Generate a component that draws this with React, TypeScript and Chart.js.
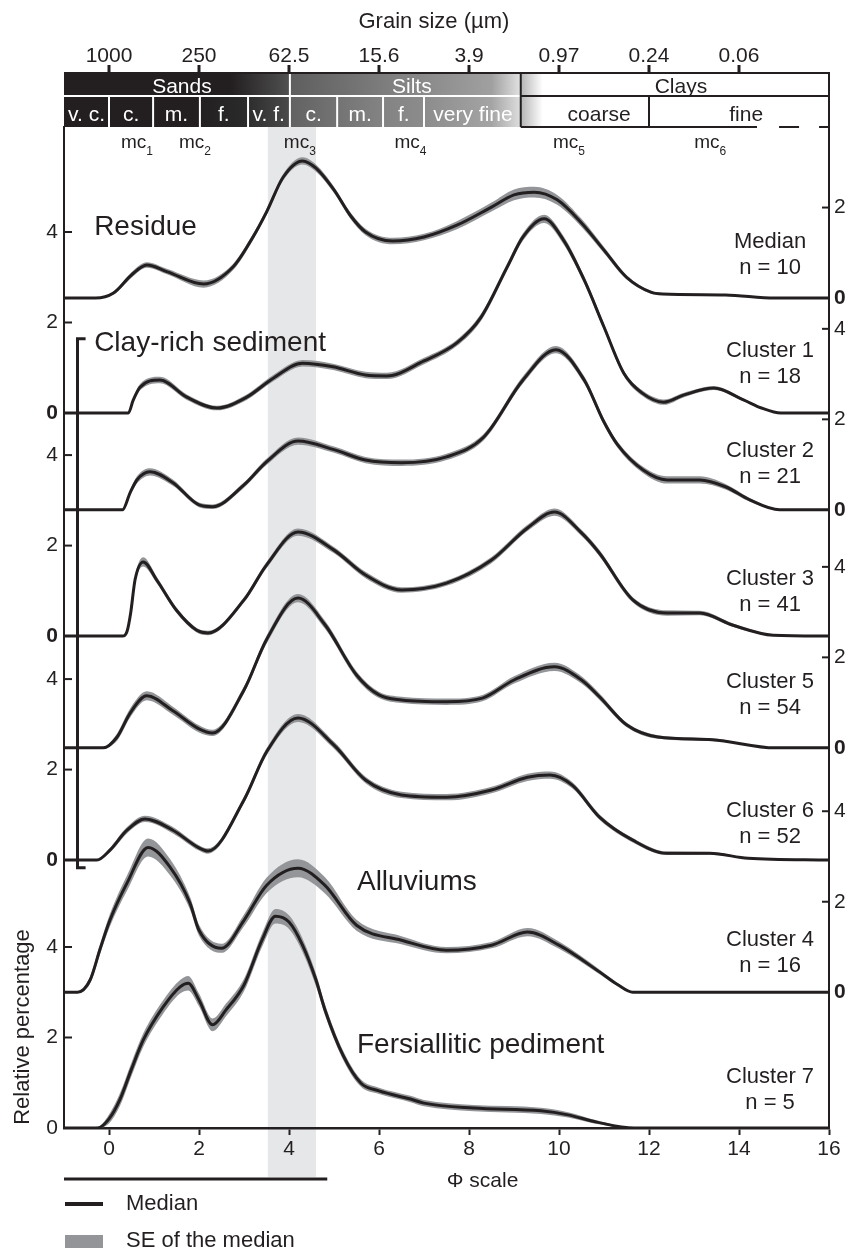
import React, { useEffect, useRef } from 'react';
import { Chart, registerables } from 'chart.js';

Chart.register(...registerables);

const FONT = '"Liberation Sans", Arial, Helvetica, sans-serif';
const INK = '#231f20';
const SE_GREY = '#939598';
const BAND_GREY = '#e6e7e8';
const W = 848;
const H = 1253;

// ---------- curve data (Φ positions, median relative %, SE of median) ----------
const residuePhi = [-1, -0.3, 0.1, 0.5, 0.84, 1.3, 2.1, 2.76, 3.2, 3.5, 3.87, 4.3, 4.6, 5.0, 5.36, 5.7, 6.3, 7.0, 7.73, 8.5, 9.0, 9.45, 9.96, 10.5, 11.0, 11.5, 12.04, 12.3, 13.7, 14.8, 16];
const residueMedian = [0, 0, 0.11, 0.51, 0.73, 0.58, 0.31, 0.69, 1.35, 1.9, 2.67, 3.03, 2.87, 2.39, 1.83, 1.46, 1.26, 1.35, 1.61, 2.01, 2.28, 2.34, 2.17, 1.66, 1.06, 0.46, 0.13, 0.09, 0.07, 0, 0];
const residueSE = [0, 0, 0.03, 0.06, 0.06, 0.06, 0.08, 0.07, 0.07, 0.07, 0.07, 0.08, 0.08, 0.07, 0.07, 0.07, 0.07, 0.07, 0.09, 0.1, 0.12, 0.12, 0.11, 0.09, 0.07, 0.05, 0.03, 0.02, 0.01, 0, 0];

const c1Phi = [-1, 0.43, 0.54, 0.69, 1.13, 1.73, 2.4, 3.06, 3.65, 4.3, 4.98, 5.7, 6.17, 7.0, 7.73, 8.27, 8.85, 9.2, 9.67, 10.1, 10.56, 11.0, 11.44, 11.85, 12.33, 12.78, 13.44, 14.1, 14.5, 14.93, 16];
const c1Median = [0, 0, 0.29, 0.57, 0.73, 0.35, 0.11, 0.35, 0.77, 1.1, 1.02, 0.84, 0.82, 1.15, 1.55, 2.12, 3.23, 3.89, 4.29, 3.82, 2.94, 1.9, 0.88, 0.44, 0.24, 0.4, 0.55, 0.29, 0.11, 0, 0];
const c1SE = [0, 0, 0.05, 0.07, 0.07, 0.06, 0.05, 0.06, 0.07, 0.07, 0.07, 0.07, 0.07, 0.07, 0.07, 0.08, 0.08, 0.08, 0.09, 0.09, 0.08, 0.07, 0.06, 0.06, 0.06, 0.05, 0.04, 0.03, 0.02, 0, 0];

const c2Phi = [-1, 0.3, 0.47, 0.62, 0.91, 1.42, 2.0, 2.3, 3.0, 3.5, 4.2, 5.0, 5.7, 6.5, 7.5, 8.33, 9.2, 9.93, 10.56, 11.0, 11.3, 11.87, 12.4, 13.13, 13.7, 14.24, 14.9, 16];
const c2Median = [0, 0, 0.38, 0.66, 0.84, 0.6, 0.11, 0.07, 0.55, 1.06, 1.52, 1.33, 1.1, 1.04, 1.17, 1.61, 2.87, 3.54, 2.87, 1.94, 1.44, 0.88, 0.66, 0.66, 0.51, 0.22, 0, 0];
const c2SE = [0, 0, 0.06, 0.08, 0.08, 0.07, 0.05, 0.05, 0.06, 0.07, 0.08, 0.07, 0.07, 0.07, 0.07, 0.07, 0.08, 0.08, 0.08, 0.07, 0.07, 0.07, 0.08, 0.08, 0.06, 0.04, 0, 0];

const c3Phi = [-1, 0.3, 0.4, 0.48, 0.58, 0.76, 1.06, 1.5, 1.95, 2.2, 3.0, 3.5, 4.2, 5.0, 5.7, 6.5, 7.5, 8.5, 9.3, 9.9, 10.5, 10.9, 11.64, 12.4, 13.13, 13.87, 14.76, 16];
const c3Median = [0, 0, 0.1, 0.5, 1.25, 1.64, 1.24, 0.57, 0.13, 0.07, 0.8, 1.57, 2.3, 1.9, 1.35, 1.02, 1.17, 1.68, 2.39, 2.74, 2.28, 1.83, 0.8, 0.51, 0.51, 0.24, 0.02, 0];
const c3SE = [0, 0, 0.03, 0.06, 0.08, 0.1, 0.07, 0.06, 0.05, 0.05, 0.06, 0.07, 0.08, 0.07, 0.07, 0.06, 0.06, 0.07, 0.07, 0.08, 0.07, 0.07, 0.06, 0.06, 0.05, 0.04, 0.01, 0];

const c5Phi = [-1, -0.13, 0.18, 0.47, 0.84, 1.42, 2.0, 2.3, 3.0, 3.5, 4.2, 4.8, 5.5, 6.0, 6.5, 7.5, 8.3, 9.0, 9.9, 10.5, 10.9, 11.5, 12.2, 13.4, 14.8, 16];
const c5Median = [0, 0, 0.24, 0.77, 1.15, 0.82, 0.42, 0.33, 1.28, 2.39, 3.31, 2.72, 1.61, 1.17, 1.06, 1.02, 1.1, 1.5, 1.79, 1.5, 1.13, 0.51, 0.24, 0.18, 0, 0];
const c5SE = [0, 0.02, 0.08, 0.1, 0.1, 0.09, 0.08, 0.07, 0.08, 0.09, 0.09, 0.09, 0.08, 0.07, 0.07, 0.07, 0.07, 0.08, 0.09, 0.08, 0.07, 0.05, 0.04, 0.03, 0, 0];

const c6Phi = [-1, -0.27, 0.02, 0.4, 0.8, 1.42, 2.0, 2.2, 3.0, 3.5, 4.2, 5.0, 5.7, 6.5, 7.5, 8.5, 9.3, 9.8, 10.3, 10.9, 11.64, 12.4, 13.35, 14.2, 16];
const c6Median = [0, 0, 0.22, 0.66, 0.91, 0.66, 0.27, 0.2, 1.33, 2.39, 3.14, 2.54, 1.77, 1.44, 1.39, 1.55, 1.83, 1.88, 1.65, 0.95, 0.44, 0.15, 0.15, 0.04, 0];
const c6SE = [0, 0.01, 0.05, 0.07, 0.07, 0.07, 0.06, 0.06, 0.07, 0.08, 0.09, 0.08, 0.07, 0.07, 0.07, 0.07, 0.08, 0.08, 0.07, 0.06, 0.05, 0.04, 0.03, 0.01, 0];

const c4Phi = [-1, -0.7, -0.42, -0.2, 0.02, 0.4, 0.87, 1.36, 1.8, 2.0, 2.5, 3.0, 3.5, 4.2, 4.8, 5.5, 6.5, 7.5, 8.5, 9.3, 10.0, 10.9, 11.3, 11.64, 16];
const c4Median = [0, 0, 0.27, 0.95, 1.59, 2.41, 3.2, 2.76, 1.97, 1.37, 0.97, 1.59, 2.36, 2.74, 2.36, 1.48, 1.15, 0.93, 1.04, 1.33, 1.04, 0.45, 0.17, 0, 0];
const c4SE = [0, 0, 0.08, 0.11, 0.14, 0.17, 0.2, 0.18, 0.14, 0.12, 0.1, 0.13, 0.17, 0.2, 0.18, 0.12, 0.09, 0.07, 0.07, 0.09, 0.08, 0.05, 0.03, 0, 0];

const c7Phi = [-1, -0.25, 0.0, 0.24, 0.5, 0.76, 1.2, 1.58, 1.76, 2.0, 2.3, 2.6, 3.0, 3.4, 3.7, 4.0, 4.3, 4.6, 4.8, 5.2, 5.6, 6.0, 6.7, 7.0, 8.1, 9.6, 10.2, 10.84, 11.67, 16];
const c7Median = [0, 0, 0.2, 0.62, 1.3, 1.94, 2.67, 3.12, 3.2, 2.83, 2.28, 2.61, 3.16, 4.15, 4.68, 4.55, 4.04, 3.27, 2.61, 1.61, 0.99, 0.82, 0.64, 0.55, 0.44, 0.38, 0.29, 0.13, 0, 0];
const c7SE = [0, 0.03, 0.1, 0.14, 0.15, 0.15, 0.15, 0.15, 0.16, 0.14, 0.14, 0.14, 0.14, 0.15, 0.16, 0.15, 0.15, 0.14, 0.12, 0.1, 0.08, 0.07, 0.07, 0.07, 0.07, 0.07, 0.06, 0.04, 0, 0];

// ---------- curve meta ----------
const curveNames = ['Residue', 'Cluster 1', 'Cluster 2', 'Cluster 3', 'Cluster 5', 'Cluster 6', 'Cluster 4', 'Cluster 7'];
const curveCaptions = ['Median', 'Cluster 1', 'Cluster 2', 'Cluster 3', 'Cluster 5', 'Cluster 6', 'Cluster 4', 'Cluster 7'];
const curveCounts = [10, 18, 21, 41, 54, 52, 16, 5];
const curveBaselines = [18.34, 15.8, 13.66, 10.87, 8.4, 5.92, 3.0, 0];
const captionHeights = [1.24, 1.37, 1.3, 1.26, 1.46, 1.08, 1.15, 1.13];
const curvePhi = [residuePhi, c1Phi, c2Phi, c3Phi, c5Phi, c6Phi, c4Phi, c7Phi];
const curveMedian = [residueMedian, c1Median, c2Median, c3Median, c5Median, c6Median, c4Median, c7Median];
const curveSE = [residueSE, c1SE, c2SE, c3SE, c5SE, c6SE, c4SE, c7SE];
const captionPhi = 14.69;

const groupLabels = ['Residue', 'Clay-rich sediment', 'Alluviums', 'Fersiallitic pediment'];
const groupLabelPhi = [-0.33, -0.33, 5.51, 5.51];
const groupLabelY = [19.73, 17.17, 5.26, 1.66];
const bracketPhi = -0.7;
const bracketRange = [5.75, 17.44];

// ---------- axes ----------
const Y_MAX = 22.12;
const phiTicks = [0, 2, 4, 6, 8, 10, 12, 14, 16];
const leftTickCurve = ['Cluster 7', 'Cluster 7', 'Cluster 7', 'Cluster 6', 'Cluster 6', 'Cluster 6', 'Cluster 3', 'Cluster 3', 'Cluster 3', 'Cluster 1', 'Cluster 1', 'Cluster 1'];
const leftTickLocal = [0, 2, 4, 0, 2, 4, 0, 2, 4, 0, 2, 4];
const leftTickBold = [false, false, false, true, false, false, true, false, false, true, false, false];
const rightTickCurve = ['Cluster 4', 'Cluster 4', 'Cluster 4', 'Cluster 5', 'Cluster 5', 'Cluster 5', 'Cluster 2', 'Cluster 2', 'Cluster 2', 'Residue', 'Residue'];
const rightTickLocal = [0, 2, 4, 0, 2, 4, 0, 2, 4, 0, 2];
const rightTickBold = [true, false, false, true, false, false, true, false, false, true, false];

const baseOf = (name: string) => curveBaselines[curveNames.indexOf(name)];
const leftTickValues = leftTickCurve.map((c, i) => baseOf(c) + leftTickLocal[i]);
const rightTickValues = rightTickCurve.map((c, i) => baseOf(c) + rightTickLocal[i]);

// ---------- grain size scale (top) ----------
const grainPhi = [0, 2, 4, 6, 8, 10, 12, 14];
const grainLabels = ['1000', '250', '62.5', '15.6', '3.9', '0.97', '0.24', '0.06'];
const classLabels = ['Sands', 'Silts', 'Clays'];
const classLabelPhi = [1.62, 6.73, 12.71];
const siltStart = 4.02;
const clayStart = 9.15;
const subDividers = [0, 0.98, 2.02, 3.09, 4.02, 5.07, 6.09, 7.0];
const subLabels = ['v. c.', 'c.', 'm.', 'f.', 'v. f.', 'c.', 'm.', 'f.', 'very fine', 'coarse', 'fine'];
const subLabelPhi = [-0.5, 0.49, 1.5, 2.55, 3.55, 4.55, 5.58, 6.55, 8.09, 10.89, 14.16];
const modeLabels = ['1', '2', '3', '4', '5', '6'];
const modePhi = [0.62, 1.91, 4.24, 6.7, 10.22, 13.36];
const highlightRange = [3.53, 4.6];
const underlinePhi = [-1, 4.85];

const row1Stops: [number, string][] = [[-1, '#231f20'], [2.7, '#231f20'], [3.98, '#4f4f4f'], [4.03, '#5e5e5e'], [7.0, '#8a8a8a'], [8.5, '#a0a0a0'], [9.15, '#e2e2e2']];
const row2Stops: [number, string][] = [[-1, '#231f20'], [2.0, '#231f20'], [3.0, '#2a2a2a'], [4.0, '#4a4a4a'], [4.05, '#626262'], [5.0, '#727272'], [6.0, '#828282'], [7.0, '#8c8c8c'], [8.5, '#a4a4a4'], [9.15, '#dedede']];

const BAR_TOP = 73;
const BAR_MID = 96;

function buildDatasets() {
  const sets: any[] = [];
  curveNames.forEach((name, i) => {
    const base = curveBaselines[i];
    const phi = curvePhi[i];
    const med = curveMedian[i];
    const se = curveSE[i];
    const common = { pointRadius: 0, pointHoverRadius: 0, cubicInterpolationMode: 'monotone' };
    sets.push({
      ...common,
      label: name + ' SE low',
      data: phi.map((x, k) => ({ x, y: base + Math.max(0, med[k] - se[k]) })),
      borderWidth: 0,
      borderColor: 'rgba(0,0,0,0)',
      fill: false,
      order: 1,
    });
    sets.push({
      ...common,
      label: name + ' SE',
      data: phi.map((x, k) => ({ x, y: base + med[k] + se[k] })),
      borderWidth: 0,
      borderColor: 'rgba(0,0,0,0)',
      backgroundColor: SE_GREY,
      fill: '-1',
      order: 1,
    });
    sets.push({
      ...common,
      label: name,
      data: phi.map((x, k) => ({ x, y: base + med[k] })),
      borderColor: INK,
      borderWidth: 3,
      fill: false,
      order: 0,
    });
  });
  return sets;
}

const decorPlugin = {
  id: 'decor',
  beforeDraw(chart: any) {
    const { ctx, chartArea: ca, scales } = chart;
    const x0 = scales.x.getPixelForValue(highlightRange[0]);
    const x1 = scales.x.getPixelForValue(highlightRange[1]);
    ctx.save();
    ctx.fillStyle = BAND_GREY;
    ctx.fillRect(x0, ca.top, x1 - x0, 1177 - ca.top);
    ctx.restore();
  },
  afterDraw(chart: any) {
    const { ctx, chartArea: ca, scales } = chart;
    const xs = scales.x;
    const ys = scales.y;
    const xp = (v: number) => xs.getPixelForValue(v);
    const yp = (v: number) => ys.getPixelForValue(v);
    const line = (a: number, b: number, c: number, d: number) => {
      ctx.beginPath();
      ctx.moveTo(a, b);
      ctx.lineTo(c, d);
      ctx.stroke();
    };
    const text = (s: string, x: number, y: number, size: number, o: any = {}) => {
      ctx.font = `${o.weight || 'normal'} ${size}px ${FONT}`;
      ctx.fillStyle = o.color || INK;
      ctx.textAlign = o.align || 'center';
      ctx.textBaseline = o.baseline || 'alphabetic';
      ctx.fillText(s, x, y);
    };
    ctx.save();

    // ---- top grain-size bar ----
    const L = ca.left, R = ca.right, T = BAR_TOP, M = BAR_MID, B = ca.top;
    const C = xp(clayStart);
    const span = clayStart + 1;
    const mkGrad = (stops: [number, string][]) => {
      const g = ctx.createLinearGradient(L, 0, C, 0);
      stops.forEach(([p, c]) => g.addColorStop((p + 1) / span, c));
      return g;
    };
    ctx.fillStyle = mkGrad(row1Stops);
    ctx.fillRect(L, T, C - L, M - T);
    ctx.fillStyle = mkGrad(row2Stops);
    ctx.fillRect(L, M, C - L, B - M);
    const cg = ctx.createLinearGradient(C, 0, C + 22, 0);
    cg.addColorStop(0, '#b5b5b5');
    cg.addColorStop(1, '#ffffff');
    ctx.fillStyle = cg;
    ctx.fillRect(C, T, 22, B - T);

    ctx.strokeStyle = '#ffffff';
    ctx.lineWidth = 2;
    line(L, M, C, M);
    line(xp(siltStart), T, xp(siltStart), M);
    subDividers.forEach((p) => line(xp(p), M, xp(p), B));

    ctx.strokeStyle = INK;
    ctx.lineWidth = 2;
    line(L, T, R + 1, T);
    line(C, T, C, B);
    line(C, M, R, M);
    line(xp(12), M, xp(12), B);
    line(R, T, R, B);
    line(C, B, xp(14.4), B);
    ctx.setLineDash([20, 20]);
    line(xp(14.89), B, R, B);
    ctx.setLineDash([]);

    classLabels.forEach((s, i) => text(s, xp(classLabelPhi[i]), 93, 21, { color: i < 2 ? '#ffffff' : INK }));
    subLabels.forEach((s, i) => text(s, xp(subLabelPhi[i]), 121, 21, { color: i < 9 ? '#ffffff' : INK }));

    // top ticks and labels
    ctx.lineWidth = 3;
    grainPhi.forEach((p, i) => {
      line(xp(p), 65, xp(p), T);
      text(grainLabels[i], xp(p), 62, 21);
    });
    text('Grain size (\u00b5m)', xp(7.22), 28, 22);

    // mode labels
    modeLabels.forEach((s, i) => {
      ctx.font = `19px ${FONT}`;
      const w1 = ctx.measureText('mc').width;
      ctx.font = `12px ${FONT}`;
      const w2 = ctx.measureText(s).width;
      const x0 = xp(modePhi[i]) - (w1 + w2) / 2;
      text('mc', x0, 148, 19, { align: 'left' });
      text(s, x0 + w1, 155, 12, { align: 'left' });
    });

    // inward tick marks on y axes
    ctx.strokeStyle = INK;
    ctx.lineWidth = 2;
    leftTickValues.forEach((v, i) => {
      if (leftTickLocal[i] !== 0) line(ca.left, yp(v), ca.left + 8, yp(v));
    });
    rightTickValues.forEach((v, i) => {
      if (rightTickLocal[i] !== 0) line(ca.right - 7, yp(v), ca.right, yp(v));
    });

    // bracket for clay-rich sediments
    ctx.lineWidth = 3;
    const bx = xp(bracketPhi);
    const bt = yp(bracketRange[1]);
    const bb = yp(bracketRange[0]);
    ctx.beginPath();
    ctx.moveTo(xp(bracketPhi + 0.18), bt);
    ctx.lineTo(bx, bt);
    ctx.lineTo(bx, bb);
    ctx.lineTo(xp(bracketPhi + 0.18), bb);
    ctx.stroke();

    // group labels
    groupLabels.forEach((s, i) => text(s, xp(groupLabelPhi[i]), yp(groupLabelY[i]), 28, { align: 'left' }));

    // cluster captions
    curveCaptions.forEach((s, i) => {
      const y = yp(curveBaselines[i] + captionHeights[i]);
      text(s, xp(captionPhi), y, 22, { baseline: 'middle' });
      text('n = ' + curveCounts[i], xp(captionPhi), y + 26, 22, { baseline: 'middle' });
    });

    // axis titles
    text('\u03a6 scale', xp(8.3), 1187, 21);
    ctx.save();
    ctx.translate(23, 1027);
    ctx.rotate(-Math.PI / 2);
    text('Relative percentage', 0, 0, 22, { baseline: 'middle' });
    ctx.restore();

    // underline below axis
    ctx.strokeStyle = INK;
    ctx.lineWidth = 3;
    line(xp(underlinePhi[0]), 1179, xp(underlinePhi[1]), 1179);

    // legend
    ctx.lineWidth = 4;
    line(65, 1204, 103, 1204);
    text('Median', 126, 1210, 22, { align: 'left' });
    ctx.fillStyle = SE_GREY;
    ctx.fillRect(65, 1235, 38, 13);
    text('SE of the median', 126, 1247, 22, { align: 'left' });

    ctx.restore();
  },
};

export default function App() {
  const ref = useRef<HTMLCanvasElement>(null);
  useEffect(() => {
    const tickFont = (bold: boolean[]) => (c: any) => ({ family: FONT, size: 21, weight: bold[c.index] ? 'bold' : 'normal' });
    const chart = new Chart(ref.current as HTMLCanvasElement, {
      type: 'line',
      data: { datasets: buildDatasets() },
      plugins: [decorPlugin],
      options: {
        responsive: false,
        animation: false,
        devicePixelRatio: 1,
        events: [],
        layout: { padding: { top: 127, left: 0, right: 0, bottom: 0 } },
        plugins: { legend: { display: false }, tooltip: { enabled: false } },
        scales: {
          x: {
            type: 'linear',
            position: 'bottom',
            min: -1,
            max: 16,
            afterBuildTicks: (s: any) => { s.ticks = phiTicks.map((v) => ({ value: v })); },
            afterFit: (s: any) => { s.height = 125; },
            grid: { drawOnChartArea: false, drawTicks: true, tickLength: 7, tickWidth: 2, tickColor: INK },
            border: { display: true, width: 2.5, color: INK },
            ticks: { color: INK, font: { family: FONT, size: 21 }, padding: 2, autoSkip: false, maxRotation: 0, callback: (v: any) => String(v) },
          },
          y: {
            type: 'linear',
            position: 'left',
            min: 0,
            max: Y_MAX,
            afterBuildTicks: (s: any) => { s.ticks = leftTickValues.map((v) => ({ value: v })); },
            afterFit: (s: any) => { s.width = 64; },
            grid: { display: false, drawTicks: false },
            border: { display: true, width: 2, color: INK },
            ticks: { color: INK, font: tickFont(leftTickBold), padding: 6, autoSkip: false, callback: (_v: any, i: number) => String(leftTickLocal[i]) },
          },
          y2: {
            type: 'linear',
            position: 'right',
            min: 0,
            max: Y_MAX,
            afterBuildTicks: (s: any) => { s.ticks = rightTickValues.map((v) => ({ value: v })); },
            afterFit: (s: any) => { s.width = 19; },
            grid: { display: false, drawTicks: false },
            border: { display: true, width: 2, color: INK },
            ticks: { color: INK, font: tickFont(rightTickBold), padding: 5, autoSkip: false, callback: (_v: any, i: number) => String(rightTickLocal[i]) },
          },
        },
      } as any,
    });
    return () => chart.destroy();
  }, []);
  return (
    <div style={{ position: 'absolute', left: 0, top: 0, width: W, height: H, background: '#ffffff' }}>
      <canvas ref={ref} width={W} height={H} style={{ width: W, height: H, display: 'block' }} />
    </div>
  );
}
